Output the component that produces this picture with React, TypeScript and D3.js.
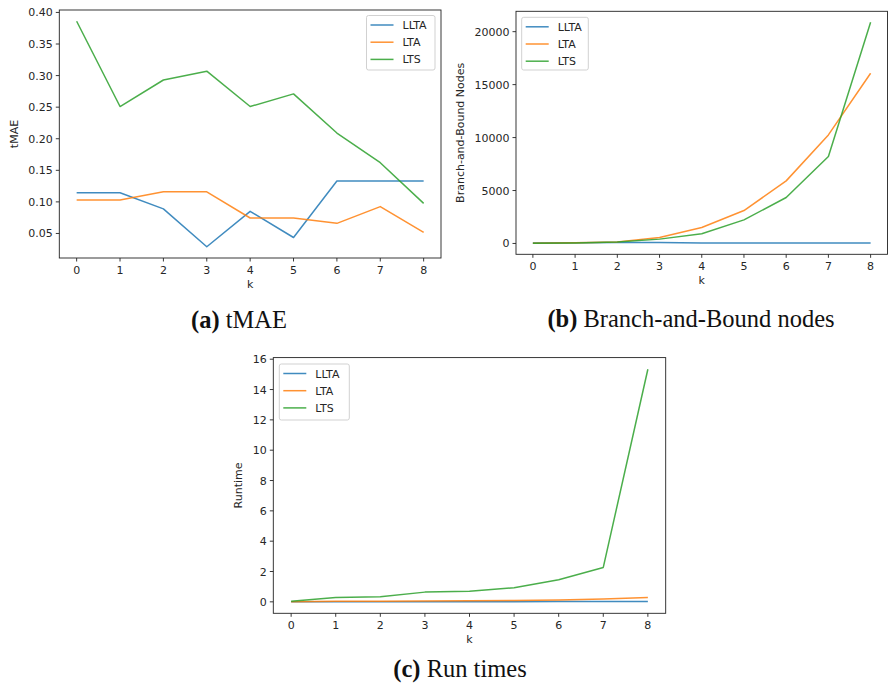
import React from "react";
import * as d3 from "d3";

const ks = [0, 1, 2, 3, 4, 5, 6, 7, 8];
const seriesNames = ["LLTA", "LTA", "LTS"];
const colors = ["#1f77b4", "#ff7f0e", "#2ca02c"];

// (a) tMAE
const tmaeLLTA = [0.1145, 0.1145, 0.089, 0.029, 0.085, 0.0436, 0.133, 0.133, 0.133];
const tmaeLTA = [0.103, 0.103, 0.116, 0.116, 0.0745, 0.0745, 0.066, 0.0925, 0.0516];
const tmaeLTS = [0.386, 0.251, 0.293, 0.307, 0.251, 0.271, 0.209, 0.162, 0.0976];
const tmaeTicks = [0.05, 0.1, 0.15, 0.2, 0.25, 0.3, 0.35, 0.4];

// (b) Branch-and-Bound nodes
const bbLLTA = [40, 60, 90, 80, 50, 45, 45, 45, 45];
const bbLTA = [20, 60, 150, 566, 1510, 3110, 5910, 10250, 16070];
const bbLTS = [20, 55, 130, 410, 910, 2230, 4340, 8210, 20880];
const bbTicks = [0, 5000, 10000, 15000, 20000];

// (c) Run times
const rtLLTA = [0.01, 0.01, 0.01, 0.01, 0.01, 0.01, 0.02, 0.02, 0.02];
const rtLTA = [0.01, 0.03, 0.04, 0.05, 0.07, 0.09, 0.12, 0.18, 0.28];
const rtLTS = [0.04, 0.29, 0.33, 0.64, 0.7, 0.93, 1.45, 2.27, 15.34];
const rtTicks = [0, 2, 4, 6, 8, 10, 12, 14, 16];

const captions = [
  { b: "(a)", t: "tMAE" },
  { b: "(b)", t: "Branch-and-Bound nodes" },
  { b: "(c)", t: "Run times" },
];

type PanelProps = {
  left: number; right: number; top: number; bottom: number;
  series: number[][]; yTicks: number[]; yFmt: (v: number) => string;
  yLabel: string; legend: { x: number; y: number; w: number; h: number };
  yLabelX: number;
};

const FONT = "DejaVu Sans, sans-serif";

function Panel(p: PanelProps) {
  const all = p.series.flat();
  const mn = d3.min(all)!, mx = d3.max(all)!;
  const m = (mx - mn) * 0.05;
  const x = d3.scaleLinear().domain([-0.4, 8.4]).range([p.left, p.right]);
  const y = d3.scaleLinear().domain([mn - m, mx + m]).range([p.bottom, p.top]);
  const line = d3.line<number>().x((_, i) => x(ks[i])).y((d) => y(d));
  const tc = "#262626";
  return (
    <g>
      {p.series.map((s, i) => (
        <path key={i} d={line(s)!} fill="none" stroke={colors[i]} strokeOpacity={0.85} strokeWidth={1.5} strokeLinejoin="round" />
      ))}
      <rect x={p.left} y={p.top} width={p.right - p.left} height={p.bottom - p.top} fill="none" stroke="#222" strokeWidth={0.9} />
      {ks.map((k) => (
        <g key={k}>
          <line x1={x(k)} x2={x(k)} y1={p.bottom} y2={p.bottom + 3.5} stroke="#222" strokeWidth={0.9} />
          <text x={x(k)} y={p.bottom + 15.5} textAnchor="middle" fontSize={11} fontFamily={FONT} fill={tc}>{k}</text>
        </g>
      ))}
      {p.yTicks.map((v) => (
        <g key={v}>
          <line x1={p.left - 3.5} x2={p.left} y1={y(v)} y2={y(v)} stroke="#222" strokeWidth={0.9} />
          <text x={p.left - 6.5} y={y(v) + 4} textAnchor="end" fontSize={11} fontFamily={FONT} fill={tc}>{p.yFmt(v)}</text>
        </g>
      ))}
      <text x={(p.left + p.right) / 2} y={p.bottom + 30} textAnchor="middle" fontSize={11} fontFamily={FONT} fill={tc}>k</text>
      <text transform={`translate(${p.yLabelX},${(p.top + p.bottom) / 2}) rotate(-90)`} textAnchor="middle" fontSize={11} fontFamily={FONT} fill={tc}>{p.yLabel}</text>
      <g>
        <rect x={p.legend.x} y={p.legend.y} width={p.legend.w} height={p.legend.h} rx={2} fill="white" fillOpacity={0.8} stroke="#cccccc" strokeWidth={0.9} />
        {seriesNames.map((n, i) => {
          const ly = p.legend.y + 9.5 + i * 17.2;
          return (
            <g key={n}>
              <line x1={p.legend.x + 4} x2={p.legend.x + 27} y1={ly} y2={ly} stroke={colors[i]} strokeOpacity={0.85} strokeWidth={1.5} />
              <text x={p.legend.x + 36} y={ly + 4} fontSize={11} fontFamily={FONT} fill={tc}>{n}</text>
            </g>
          );
        })}
      </g>
    </g>
  );
}

function Caption({ cx, y, i }: { cx: number; y: number; i: number }) {
  return (
    <text x={cx} y={y} textAnchor="middle" fontFamily="Liberation Serif, serif" fontSize={24.5} fill="#111">
      <tspan fontWeight="bold">{captions[i].b}</tspan>
      <tspan> {captions[i].t}</tspan>
    </text>
  );
}

export default function App() {
  return (
    <svg width={889} height={688} style={{ position: "absolute", left: 0, top: 0, background: "white" }}>
      <Panel left={59.3} right={441} top={10} bottom={258}
        series={[tmaeLLTA, tmaeLTA, tmaeLTS]} yTicks={tmaeTicks} yFmt={d3.format(".2f")}
        yLabel="tMAE" yLabelX={18} legend={{ x: 366.5, y: 15.5, w: 68.5, h: 54.5 }} />
      <Panel left={516} right={887.5} top={11.3} bottom={254.3}
        series={[bbLLTA, bbLTA, bbLTS]} yTicks={bbTicks} yFmt={(v) => String(v)}
        yLabel="Branch-and-Bound Nodes" yLabelX={464} legend={{ x: 521.7, y: 17.3, w: 66.6, h: 52.7 }} />
      <Panel left={273.3} right={665.7} top={357.6} bottom={613.3}
        series={[rtLLTA, rtLTA, rtLTS]} yTicks={rtTicks} yFmt={(v) => String(v)}
        yLabel="Runtime" yLabelX={242} legend={{ x: 279.3, y: 364, w: 70, h: 56 }} />
      <Caption cx={239} y={328} i={0} />
      <Caption cx={691} y={327} i={1} />
      <Caption cx={460} y={677} i={2} />
    </svg>
  );
}
